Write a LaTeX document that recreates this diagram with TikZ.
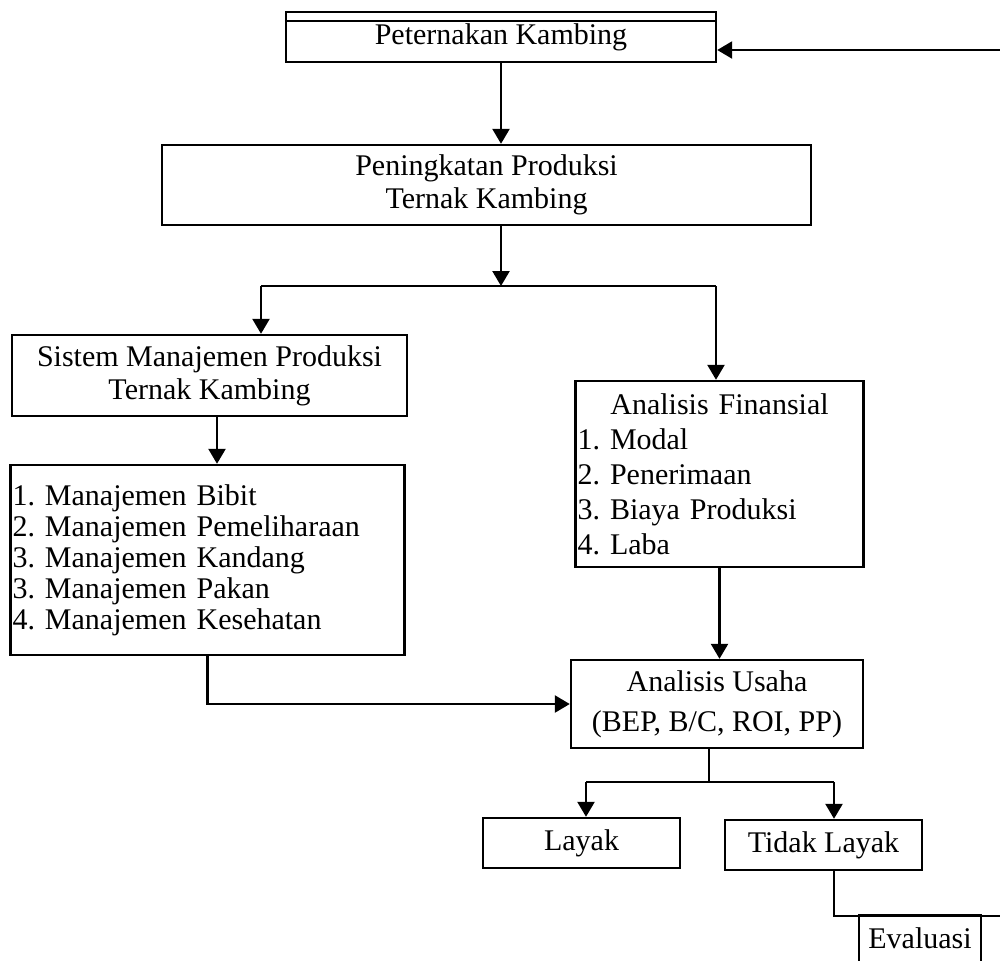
\documentclass[tikz,border=0pt]{standalone}
\usepackage{fontspec}
\setmainfont{Liberation Serif}
\usetikzlibrary{arrows.meta}

\begin{document}
\begin{tikzpicture}[x=0.5pt,y=0.5pt,yscale=-1,xscale=1,
        kotak/.style={draw, line width=1.2pt, inner sep=1pt, align=center, font=\fontsize{15}{16.5}\selectfont\frenchspacing},
        daftar/.style={kotak, align=left},
        garis/.style={line width=1.2pt},
        panah/.style={garis, -{Triangle[length=7.5pt,width=8.5pt]}}]
        \useasboundingbox (0,0) rectangle (1000,960);

        % Text Node
        \node [kotak, minimum width=215pt, minimum height=25pt] (ternak) at (501,37) {Peternakan Kambing};
        % Text Node
        \node [kotak, minimum width=324.5pt, minimum height=40pt] (tingkat) at (486.5,185) {Peningkatan Produksi\\Ternak Kambing};
        % Text Node
        \node [kotak, minimum width=197.5pt, minimum height=40.5pt] (sistem) at (209.5,375.5) {Sistem Manajemen Produksi\\Ternak Kambing};
        % Text Node
        \node [daftar, text width=195pt, minimum height=95pt, font=\fontsize{15}{15.5}\selectfont\frenchspacing] (manajemen) at (207.5,560) {1. Manajemen Bibit\\2. Manajemen Pemeliharaan\\3. Manajemen Kandang\\3. Manajemen Pakan\\4. Manajemen Kesehatan};
        % Text Node
        \node [daftar, text width=142pt, minimum height=93pt, font=\fontsize{15}{17.5}\selectfont\frenchspacing] (finansial) at (719.5,474) {\makebox[\linewidth]{Analisis Finansial}\\1. Modal\\2. Penerimaan\\3. Biaya Produksi\\4. Laba};
        % Text Node
        \node [kotak, minimum width=146pt, minimum height=44pt, font=\fontsize{15}{20}\selectfont\frenchspacing] (usaha) at (717,704) {Analisis Usaha\\(BEP, B/C, ROI, PP)};
        % Text Node
        \node [kotak, minimum width=98.5pt, minimum height=25pt] (layak) at (581.5,843) {Layak};
        % Text Node
        \node [kotak, minimum width=98.5pt, minimum height=25pt] (tidaklayak) at (823.5,845) {Tidak Layak};
        % Text Node
        \node [kotak, draw=none, minimum width=60pt, minimum height=22pt] (evaluasi) at (920,938) {Evaluasi};

        %Shape: Rectangle (open at the bottom)
        \draw [garis] (evaluasi.south west) -- (evaluasi.north west) -- (evaluasi.north east) -- (evaluasi.south east);
        %Straight Lines
        \coordinate (atas) at (0,21);
        \draw [garis] (ternak.west |- atas) -- (ternak.east |- atas);

        % junctions
        \coordinate (cabang1) at (501,286);
        \coordinate (cabang1kiri) at (261,286);
        \coordinate (cabang1kanan) at (716,286);
        \coordinate (turun) at (217,0);
        \coordinate (cabang2) at (709,782);
        \coordinate (cabang2kiri) at (586,782);
        \coordinate (cabang2kanan) at (834,782);
        \coordinate (balik1) at (1000,916);
        \coordinate (balik2) at (1000,50);

        %Straight Lines
        \draw [panah] (ternak.south) -- (ternak.south |- tingkat.north);
        \draw [panah] (cabang1 |- tingkat.south) -- (cabang1);
        \draw [garis] (cabang1kiri) -- (cabang1kanan);
        \draw [panah] (cabang1kiri) -- (cabang1kiri |- sistem.north);
        \draw [panah] (cabang1kanan) -- (cabang1kanan |- finansial.north);
        \draw [panah] (turun |- sistem.south) -- (turun |- manajemen.north);
        \draw [panah] (manajemen.south) |- (usaha.west);
        \draw [panah] (finansial.south) -- (finansial.south |- usaha.north);
        \draw [garis] (cabang2 |- usaha.south) -- (cabang2);
        \draw [garis] (cabang2kiri) -- (cabang2kanan);
        \draw [panah] (cabang2kiri) -- (cabang2kiri |- layak.north);
        \draw [panah] (cabang2kanan) -- (cabang2kanan |- tidaklayak.north);
        \draw [garis] (cabang2kanan |- tidaklayak.south) |- (balik1);
        \draw [panah] (balik2) -- (ternak.east |- balik2);

    \end{tikzpicture}
\end{document}
